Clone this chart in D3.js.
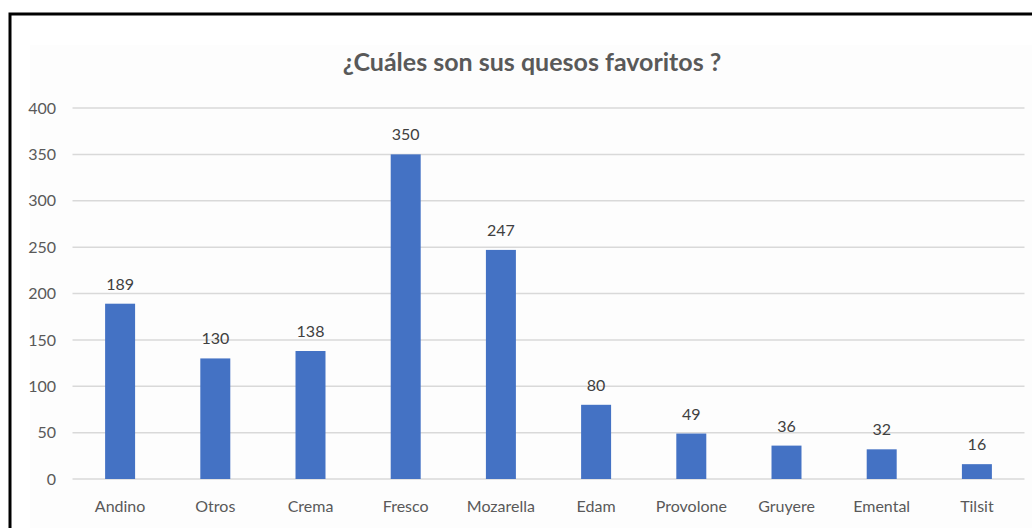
<!DOCTYPE html>
<html>
<head>
<meta charset="utf-8">
<script src="https://cdn.jsdelivr.net/npm/d3@7"></script>
<style>
  html, body { margin: 0; padding: 0; background: #ffffff; }
  svg { display: block; }
  text { font-family: Lato, "Open Sans", sans-serif; }
</style>
</head>
<body>
<svg id="chart" width="1032" height="528"></svg>
<script>
// Cheese preferences survey
const categories = ["Andino", "Otros", "Crema", "Fresco", "Mozarella", "Edam", "Provolone", "Gruyere", "Emental", "Tilsit"];
const votes = [189, 130, 138, 350, 247, 80, 49, 36, 32, 16];
const yTicks = [0, 50, 100, 150, 200, 250, 300, 350, 400];
const title = "¿Cuáles son sus quesos favoritos ?";

const svg = d3.select("#chart");
const W = 1032, H = 528;

// chart area background and frame
svg.append("rect").attr("x", 30).attr("y", 45).attr("width", W - 30).attr("height", H - 45)
  .attr("fill", "#fdfdfd");
svg.append("path")
  .attr("d", `M10,${H + 5} L10,14 L${W + 5},14`)
  .attr("fill", "none").attr("stroke", "#000").attr("stroke-width", 3);

const plot = { left: 72.5, right: 1024.5, top: 108, bottom: 479 };

const x = d3.scaleBand().domain(categories).range([plot.left, plot.right]).paddingInner(0.685).paddingOuter(0.3425);
const y = d3.scaleLinear().domain([0, 400]).range([plot.bottom, plot.top]);

// gridlines
svg.append("g").selectAll("line").data(yTicks).join("line")
  .attr("x1", plot.left).attr("x2", plot.right)
  .attr("y1", d => y(d)).attr("y2", d => y(d))
  .attr("stroke", "#d9d9d9").attr("stroke-width", 1.5);

// y axis labels
const yAxis = d3.axisLeft(y).tickValues(yTicks).tickSize(0).tickPadding(0);
const gy = svg.append("g").attr("transform", `translate(${56},0)`).call(yAxis);
gy.select(".domain").remove();
gy.selectAll("text").attr("fill", "#595959").attr("font-size", 16).attr("font-family", "Lato, 'Open Sans', sans-serif");

// x axis labels
const xAxis = d3.axisBottom(x).tickSize(0).tickPadding(0);
const gx = svg.append("g").attr("transform", `translate(0,${plot.bottom + 22})`).call(xAxis);
gx.select(".domain").remove();
gx.selectAll("text").attr("fill", "#595959").attr("font-size", 16).attr("font-family", "Lato, 'Open Sans', sans-serif");

// bars
svg.append("g").selectAll("rect").data(categories).join("rect")
  .attr("x", d => x(d))
  .attr("width", x.bandwidth())
  .attr("y", (d, i) => y(votes[i]))
  .attr("height", (d, i) => y(0) - y(votes[i]))
  .attr("fill", "#4472c4");

// value labels
svg.append("g").selectAll("text").data(categories).join("text")
  .attr("x", d => x(d) + x.bandwidth() / 2)
  .attr("y", (d, i) => y(votes[i]) - 14)
  .attr("text-anchor", "middle")
  .attr("fill", "#404040").attr("font-size", 16)
  .text((d, i) => votes[i]);

// title
svg.append("text")
  .attr("x", 532).attr("y", 71)
  .attr("text-anchor", "middle")
  .attr("fill", "#595959").attr("font-size", 25).attr("font-weight", "bold")
  .text(title);
</script>
</body>
</html>
